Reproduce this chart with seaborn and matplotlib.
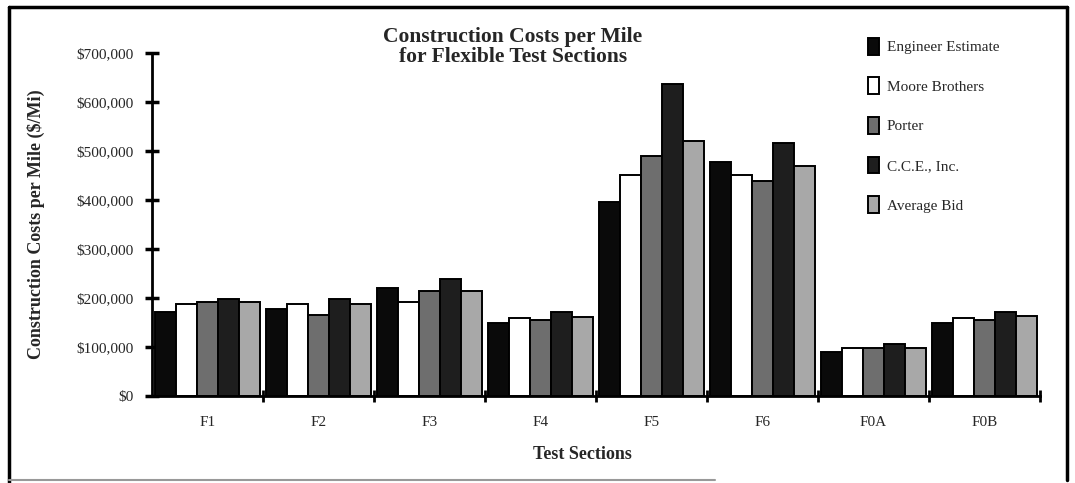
import matplotlib
matplotlib.use("Agg")
import matplotlib.pyplot as plt
import matplotlib.ticker as mticker
from matplotlib.lines import Line2D
import pandas as pd
import seaborn as sns

# Data
sections = ["F1", "F2", "F3", "F4", "F5", "F6", "F0A", "F0B"]
bidders = ["Engineer Estimate", "Moore Brothers", "Porter", "C.C.E., Inc.", "Average Bid"]
engineer_estimate = [172000, 178000, 221000, 150000, 397000, 477000, 90000, 150000]
moore_brothers = [188000, 188000, 192000, 160000, 451000, 451000, 99000, 160000]
porter = [192000, 165000, 214000, 155000, 490000, 439000, 99000, 156000]
cce_inc = [198000, 199000, 239000, 172000, 638000, 517000, 106000, 171000]
average_bid = [192000, 188000, 214000, 162000, 521000, 469000, 99000, 164000]
colors = ["#0a0a0a", "#ffffff", "#6e6e6e", "#1e1e1e", "#a8a8a8"]

series = [engineer_estimate, moore_brothers, porter, cce_inc, average_bid]
rows = []
for name, vals in zip(bidders, series):
    for sec, v in zip(sections, vals):
        rows.append({"Section": sec, "Bidder": name, "Cost": v})
df = pd.DataFrame(rows)

sns.set_style("white")
plt.rcParams["font.family"] = ["Liberation Serif", "DejaVu Serif"]

fig = plt.figure(figsize=(10.75, 4.83), dpi=100)
ax = fig.add_axes([0.1414, 0.180, 0.826, 0.710])

sns.barplot(data=df, x="Section", y="Cost", hue="Bidder", hue_order=bidders,
            palette=colors, width=0.94, gap=0, edgecolor="black", linewidth=1.4,
            saturation=1, ax=ax, legend=True)

ax.set_ylim(0, 700000)
ax.set_xlim(-0.5, len(sections) - 0.5)
ax.yaxis.set_major_locator(mticker.MultipleLocator(100000))
ax.yaxis.set_major_formatter(mticker.FuncFormatter(lambda v, p: f"${int(v):,}"))
ax.xaxis.set_minor_locator(mticker.FixedLocator([i + 0.5 for i in range(len(sections))]))

for s in ["top", "right"]:
    ax.spines[s].set_visible(False)
for s in ["left", "bottom"]:
    ax.spines[s].set_linewidth(2)
    ax.spines[s].set_color("black")

ax.tick_params(axis="y", left=True, direction="inout", length=10, width=2.5,
               labelsize=11, pad=8, color="black")
ax.tick_params(axis="x", which="major", bottom=False, labelsize=11, pad=11)
ax.tick_params(axis="x", which="minor", bottom=True, direction="inout", length=9,
               width=2, color="black")

ax.set_ylabel("Construction Costs per Mile ($/Mi)", fontsize=13, fontweight="bold")
ax.yaxis.set_label_coords(-0.121, 0.5)
ax.set_xlabel("Test Sections", fontsize=13, fontweight="bold")
ax.xaxis.set_label_coords(0.485, -0.145)

fig.text(0.477, 0.945, "Construction Costs per Mile\nfor Flexible Test Sections",
         ha="center", va="top", fontsize=15.5, fontweight="bold", linespacing=1.0)

handles, labels = ax.get_legend_handles_labels()
ax.legend(handles, labels, loc="upper left", bbox_to_anchor=(0.795, 0.95),
          bbox_transform=fig.transFigure, frameon=False, fontsize=11,
          handlelength=0.7, handleheight=1.3, handletextpad=0.5, labelspacing=1.5)

# outer frame as in the scanned page
frame = dict(transform=fig.transFigure, color="black", linewidth=2.5)
fig.lines.append(Line2D([0.008, 0.993], [0.986, 0.986], **frame))
fig.lines.append(Line2D([0.008, 0.008], [0.0, 0.986], **frame))
fig.lines.append(Line2D([0.993, 0.993], [0.006, 0.986], **frame))
fig.lines.append(Line2D([0.008, 0.665], [0.006, 0.006], transform=fig.transFigure,
                        color="#999999", linewidth=1.5))

fig.savefig("out.png", dpi=100)
